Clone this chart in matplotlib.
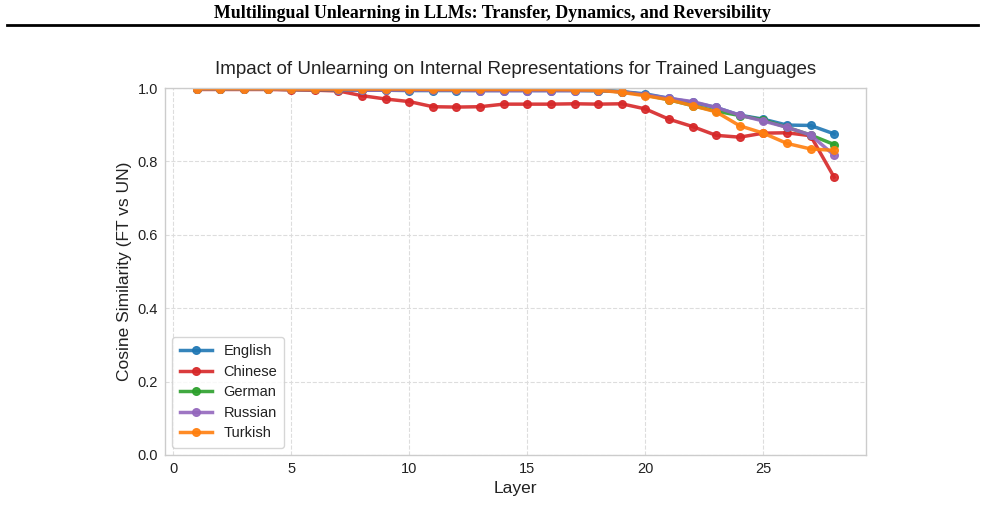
import matplotlib
matplotlib.use('Agg')
import matplotlib.pyplot as plt

layers = list(range(1, 29))

english = [0.997, 0.997, 0.997, 0.997, 0.996, 0.996, 0.995, 0.994, 0.994, 0.993,
           0.993, 0.993, 0.993, 0.993, 0.993, 0.993, 0.993, 0.993, 0.990, 0.984,
           0.972, 0.961, 0.947, 0.926, 0.915, 0.899, 0.898, 0.875]
chinese = [0.996, 0.996, 0.996, 0.996, 0.995, 0.994, 0.992, 0.979, 0.970, 0.963,
           0.949, 0.948, 0.949, 0.956, 0.956, 0.956, 0.957, 0.956, 0.957, 0.943,
           0.915, 0.895, 0.871, 0.866, 0.877, 0.878, 0.870, 0.757]
german = [0.997, 0.997, 0.997, 0.997, 0.996, 0.996, 0.995, 0.995, 0.995, 0.994,
          0.994, 0.994, 0.994, 0.994, 0.994, 0.994, 0.994, 0.993, 0.990, 0.981,
          0.968, 0.952, 0.937, 0.925, 0.913, 0.893, 0.872, 0.846]
russian = [0.997, 0.997, 0.997, 0.997, 0.996, 0.996, 0.995, 0.994, 0.994, 0.994,
           0.994, 0.994, 0.993, 0.993, 0.993, 0.993, 0.993, 0.993, 0.990, 0.982,
           0.972, 0.963, 0.947, 0.926, 0.910, 0.893, 0.872, 0.817]
turkish = [0.998, 0.998, 0.998, 0.998, 0.997, 0.997, 0.997, 0.997, 0.997, 0.997,
           0.996, 0.996, 0.996, 0.996, 0.996, 0.996, 0.995, 0.994, 0.988, 0.979,
           0.968, 0.952, 0.935, 0.897, 0.877, 0.849, 0.834, 0.830]

series = [('English', english, '#1f77b4'),
          ('Chinese', chinese, '#d62728'),
          ('German', german, '#2ca02c'),
          ('Russian', russian, '#9467bd'),
          ('Turkish', turkish, '#ff7f0e')]

plt.rcParams['font.family'] = ['Liberation Sans', 'DejaVu Sans']

fig = plt.figure(figsize=(9.85, 5.28), dpi=100)

# page header and rule
fig.text(0.5, 0.975, 'Multilingual Unlearning in LLMs: Transfer, Dynamics, and Reversibility',
         ha='center', va='center', fontsize=12.9, fontweight='bold',
         family=['Liberation Serif', 'DejaVu Serif'])
fig.add_artist(plt.Line2D([0.007, 0.993], [0.952, 0.952], color='black', lw=2.0))

ax = fig.add_axes([165 / 985, 1 - 455 / 528, 701 / 985, 367 / 528])
for name, vals, col in series:
    ax.plot(layers, vals, marker='o', markersize=5.5, lw=2.5, color=col,
            alpha=0.9, label=name)

ax.set_ylim(0, 1.0)
ax.set_xlim(-0.35, 29.35)
ax.set_xticks([0, 5, 10, 15, 20, 25])
ax.set_yticks([0.0, 0.2, 0.4, 0.6, 0.8, 1.0])
ax.grid(True, ls='--', color='#dddddd', lw=0.8)
ax.set_axisbelow(True)
for s in ax.spines.values():
    s.set_color('#cccccc')
    s.set_linewidth(1.0)
ax.tick_params(axis='both', length=0, labelsize=10.5, colors='#222222', pad=5)

ax.set_title('Impact of Unlearning on Internal Representations for Trained Languages',
             fontsize=13.5, color='#222222', pad=10)
ax.set_xlabel('Layer', fontsize=12.5, color='#222222')
ax.set_ylabel('Cosine Similarity (FT vs UN)', fontsize=12.5, color='#222222')

leg = ax.legend(loc='lower left', fontsize=10.5, frameon=True, fancybox=True,
                handlelength=2.2, borderpad=0.5, labelspacing=0.45)
leg.get_frame().set_edgecolor('#cccccc')
for t in leg.get_texts():
    t.set_color('#222222')

fig.savefig('out.png', dpi=100)
